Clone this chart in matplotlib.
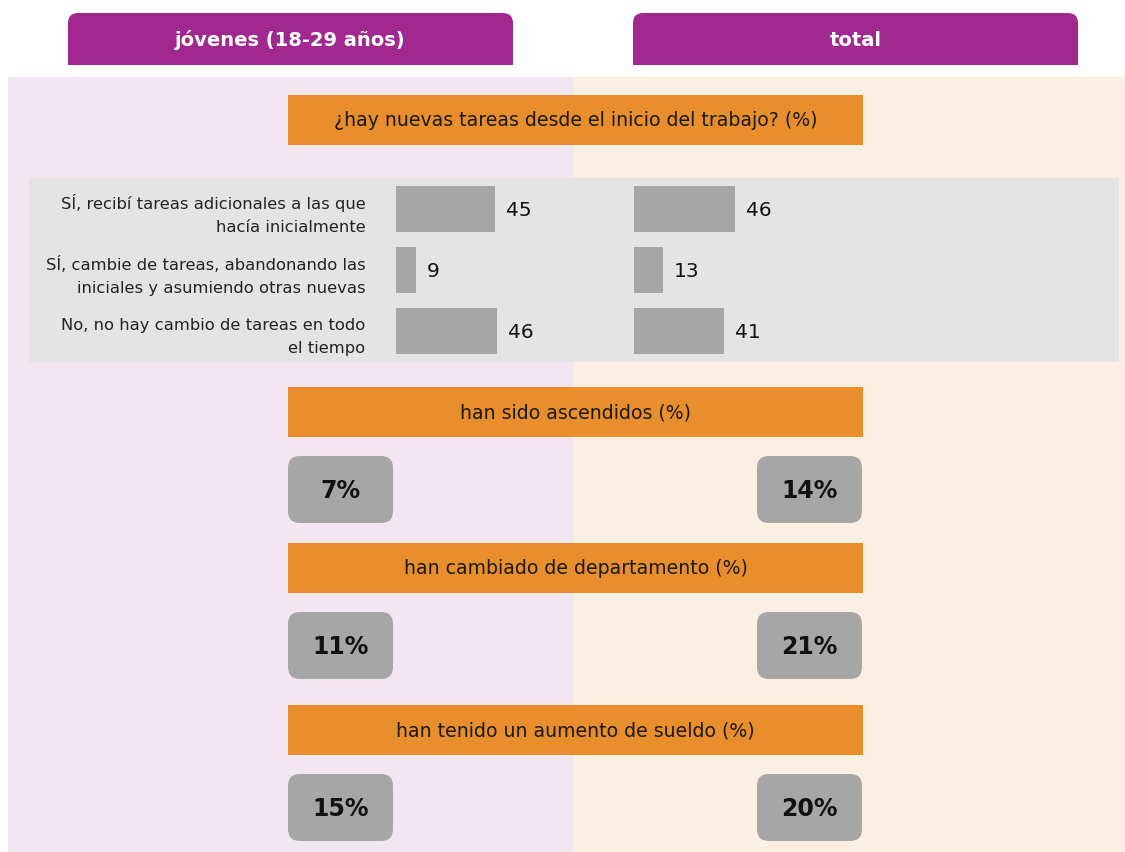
import matplotlib
matplotlib.use("Agg")
import matplotlib.pyplot as plt
from matplotlib.patches import Rectangle, FancyBboxPatch

# --- datos ---
grupos = ["jóvenes (18-29 años)", "total"]
pregunta = "¿hay nuevas tareas desde el inicio del trabajo? (%)"
categorias = [
    "SÍ, recibí tareas adicionales a las que\nhacía inicialmente",
    "SÍ, cambie de tareas, abandonando las\niniciales y asumiendo otras nuevas",
    "No, no hay cambio de tareas en todo\nel tiempo",
]
tareas_jovenes = [45, 9, 46]
tareas_total = [46, 13, 41]

indicadores = [
    "han sido ascendidos (%)",
    "han cambiado de departamento (%)",
    "han tenido un aumento de sueldo (%)",
]
ind_jovenes = [7, 11, 15]
ind_total = [14, 21, 20]

W, H = 1125, 852
MORADO = "#A0288F"
NARANJA = "#E98E2C"
GRIS = "#A6A6A6"
GRIS_FONDO = "#E4E4E4"
ROSA = "#F2E6F1"
CREMA = "#FBEFE4"

plt.rcParams["font.family"] = ["DejaVu Sans"]

fig = plt.figure(figsize=(W / 100, H / 100), dpi=100)
fig.patch.set_facecolor("white")


def rect(x0, y0, x1, y1):
    # pixeles -> fracciones de la figura
    return [x0 / W, 1 - y1 / H, (x1 - x0) / W, (y1 - y0) / H]


# fondo y decoraciones en coordenadas de pixel
bg = fig.add_axes([0, 0, 1, 1])
bg.set_xlim(0, W)
bg.set_ylim(H, 0)
bg.axis("off")

bg.add_patch(Rectangle((8, 77), 566, H - 77, color=ROSA, lw=0))
bg.add_patch(Rectangle((574, 77), W - 574, H - 77, color=CREMA, lw=0))

# pestañas
for (x0, x1), g in zip([(68, 513), (633, 1078)], grupos):
    bg.add_patch(FancyBboxPatch((x0 + 10, 13 + 10), x1 - x0 - 20, 30,
                                boxstyle="round,pad=10", color=MORADO, lw=0))
    bg.add_patch(Rectangle((x0, 40), x1 - x0, 25, color=MORADO, lw=0))
    bg.text((x0 + x1) / 2, 40, g, color="white", fontsize=14,
            fontweight="bold", ha="center", va="center")

# franja gris del bloque de barras
bg.add_patch(Rectangle((29, 178), 1090, 184, color=GRIS_FONDO, lw=0))


def cabecera(y0, texto):
    bg.add_patch(Rectangle((288, y0), 575, 50, color=NARANJA, lw=0))
    bg.text(575.5, y0 + 26, texto, color="#1a1a1a", fontsize=13.6,
            ha="center", va="center")


cabecera(95, pregunta)

# barras horizontales
for x0, vals, etiquetas in [(396, tareas_jovenes, True), (634, tareas_total, False)]:
    ax = fig.add_axes(rect(x0, 178, x0 + 220, 362))
    ax.set_xlim(0, 100)
    ax.set_ylim(2.508, -0.508)
    ax.barh(range(len(vals)), vals, height=0.754, color=GRIS)
    for i, v in enumerate(vals):
        ax.text(v + 5, i + 0.02, str(v), fontsize=14.5, color="#111111",
                va="center", ha="left")
    ax.set_xticks([])
    ax.set_yticks(range(len(categorias)))
    if etiquetas:
        ax.set_yticklabels(categorias, fontsize=11.8, color="#222222",
                           ha="right", linespacing=1.7)
        ax.tick_params(axis="y", length=0, pad=22)
    else:
        ax.set_yticklabels([])
        ax.tick_params(axis="y", length=0)
    ax.patch.set_alpha(0)
    for s in ax.spines.values():
        s.set_visible(False)

# indicadores con cajas redondeadas
ys_cab = [387, 543, 705]
for y0, texto, vj, vt in zip(ys_cab, indicadores, ind_jovenes, ind_total):
    cabecera(y0, texto)
    yb = y0 + 69
    for xb, v in [(288, vj), (757, vt)]:
        bg.add_patch(FancyBboxPatch((xb + 12, yb + 12), 105 - 24, 67 - 24,
                                    boxstyle="round,pad=12", color=GRIS, lw=0))
        bg.text(xb + 52.5, yb + 35, f"{v}%", fontsize=17, fontweight="bold",
                color="#111111", ha="center", va="center")

fig.savefig("out.png", dpi=100)
